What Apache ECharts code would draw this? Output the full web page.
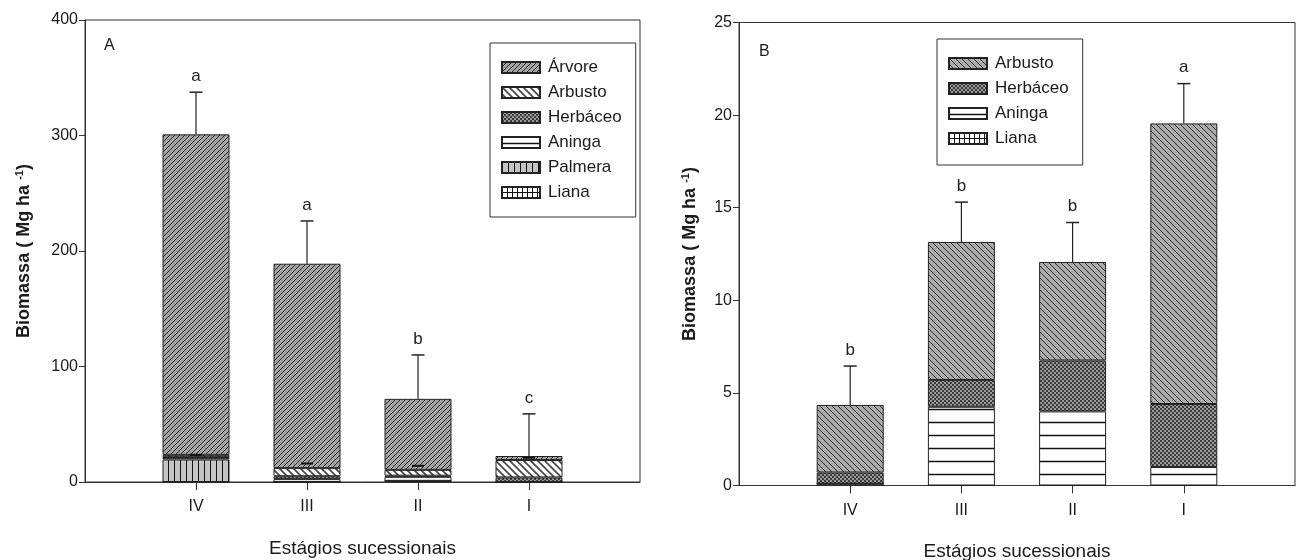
<!DOCTYPE html>
<html><head><meta charset="utf-8">
<script src="https://cdn.jsdelivr.net/npm/echarts@6/dist/echarts.min.js"></script>
<style>html,body{margin:0;padding:0;background:#fff}#c{width:1301px;height:560px}</style>
</head><body><div id="c"></div>
<script>
// ---- data ----
const categories = ['IV', 'III', 'II', 'I'];
// Panel A (Mg ha-1)
const aLiana    = [0, 0, 1, 0];
const aPalmera  = [19.5, 0, 0, 0];
const aAninga   = [1.5, 2.5, 3.5, 0];
const aHerbaceo = [0.5, 2.5, 1, 4];
const aArbusto  = [2, 7, 5, 15];
const aArvore   = [277.5, 177, 61.5, 3.5];
const aErrTop   = [337.5, 226, 110, 59];
const aLetters  = ['a', 'a', 'b', 'c'];
const aInnerErr = [23.5, 16, 14, 21];
// Panel B (Mg ha-1)
const bLiana    = [0.1, 0, 0, 0];
const bAninga   = [0, 4.25, 4.0, 1.0];
const bHerbaceo = [0.6, 1.45, 2.75, 3.4];
const bArbusto  = [3.65, 7.45, 5.32, 15.15];
const bErrTop   = [6.45, 15.3, 14.2, 21.7];
const bLetters  = ['b', 'b', 'b', 'a'];
const aTicks = [0, 100, 200, 300, 400];
const bTicks = [0, 5, 10, 15, 20, 25];

// ---- patterns ----
function pat(w, h, draw) {
  const c = document.createElement('canvas'); c.width = w; c.height = h;
  const g = c.getContext('2d'); draw(g, w, h);
  return { image: c, repeat: 'repeat' };
}
function lines(g, segs, col, lw) {
  g.strokeStyle = col; g.lineWidth = lw; g.beginPath();
  segs.forEach(s => { g.moveTo(s[0], s[1]); g.lineTo(s[2], s[3]); });
  g.stroke();
}
const P = {
  arvore: pat(5, 5, (g) => { g.fillStyle = '#a4a4a4'; g.fillRect(0,0,5,5);
    lines(g, [[0,5,5,0],[-1,1,1,-1],[4,6,6,4]], '#2a2a2a', 1); }),
  arbustoA: pat(7, 7, (g) => { g.fillStyle = '#fff'; g.fillRect(0,0,7,7);
    lines(g, [[0,0,7,7],[-1,6,1,8],[6,-1,8,1]], '#444', 1.6); }),
  arbustoB: pat(6, 6, (g) => { g.fillStyle = '#ababab'; g.fillRect(0,0,6,6);
    lines(g, [[0,0,6,6],[-1,5,1,7],[5,-1,7,1]], '#333', 1); }),
  herb: pat(4, 4, (g) => { g.fillStyle = '#9a9a9a'; g.fillRect(0,0,4,4);
    g.fillStyle = '#3c3c3c'; g.fillRect(0,0,2,2); g.fillRect(2,2,2,2); }),
  aninga: pat(10, 13, (g) => { g.fillStyle = '#fff'; g.fillRect(0,0,10,13);
    lines(g, [[0,6.5,10,6.5]], '#111', 1.5); }),
  palmera: pat(6, 6, (g) => { g.fillStyle = '#c4c4c4'; g.fillRect(0,0,6,6);
    lines(g, [[0.5,0,0.5,6]], '#111', 1); }),
  liana: pat(5, 5, (g) => { g.fillStyle = '#fff'; g.fillRect(0,0,5,5);
    lines(g, [[0.5,0,0.5,5],[0,0.5,5,0.5]], '#111', 1); })
};

const xcats = [''].concat(categories, ['']);
const toPairs = arr => arr.map((v, i) => [i + 1, v]);
const sum = (...arrs) => arrs[0].map((_, i) => arrs.reduce((s, a) => s + a[i], 0));
const aTotal = sum(aLiana, aPalmera, aAninga, aHerbaceo, aArbusto, aArvore);
const bTotal = sum(bLiana, bAninga, bHerbaceo, bArbusto);

function barSeries(name, data, color, axis) {
  return { name: name, type: 'bar', stack: 'S' + axis, xAxisIndex: axis, yAxisIndex: axis,
    barWidth: 67, data: toPairs(data), silent: true,
    itemStyle: { color: color, borderColor: '#222', borderWidth: 1 } };
}
function errSeries(axis, totals, tops, letters) {
  const data = totals.map((t, i) => [i + 1, t, tops[i]]);
  return { type: 'custom', xAxisIndex: axis, yAxisIndex: axis, data: data, silent: true, z: 5,
    renderItem: function (params, api) {
      const p0 = api.coord([api.value(0), api.value(1)]);
      const p1 = api.coord([api.value(0), api.value(2)]);
      return { type: 'group', children: [
        { type: 'line', shape: { x1: p0[0], y1: p0[1], x2: p1[0], y2: p1[1] }, style: { stroke: '#222', lineWidth: 1.2 } },
        { type: 'line', shape: { x1: p1[0] - 6.5, y1: p1[1], x2: p1[0] + 6.5, y2: p1[1] }, style: { stroke: '#222', lineWidth: 1.5 } },
        { type: 'text', style: { text: letters[params.dataIndex], x: p1[0], y: p1[1] - 16,
          textAlign: 'center', textVerticalAlign: 'middle', font: '17px "Liberation Sans"', fill: '#222' } }
      ] };
    } };
}
function capSeries(axis, tops) {
  return { type: 'custom', xAxisIndex: axis, yAxisIndex: axis, data: toPairs(tops), silent: true, z: 5,
    renderItem: function (params, api) {
      const p = api.coord([api.value(0), api.value(1)]);
      return { type: 'line', shape: { x1: p[0] - 6, y1: p[1], x2: p[0] + 6, y2: p[1] }, style: { stroke: '#111', lineWidth: 2 } };
    } };
}

const txt = '#1a1a1a';
function xAxis(grid) {
  return { type: 'category', gridIndex: grid, data: xcats, boundaryGap: false,
    axisLine: { lineStyle: { color: '#333', width: 1 } },
    axisTick: { length: 8, interval: (i) => i > 0 && i < 5, lineStyle: { color: '#333' } },
    axisLabel: { interval: 0, color: txt, fontSize: 16, fontFamily: 'Liberation Sans', margin: 17 },
    name: 'Estágios sucessionais', nameLocation: 'middle', nameGap: 57,
    nameTextStyle: { fontSize: 19, color: txt, fontFamily: 'Liberation Sans' },
    splitLine: { show: false } };
}
function yAxis(grid, max, interval, gap) {
  return { type: 'value', gridIndex: grid, min: 0, max: max, interval: interval,
    axisLine: { show: true, lineStyle: { color: '#333' } },
    axisTick: { show: true, length: 6, lineStyle: { color: '#333' } },
    axisLabel: { color: txt, fontSize: 16, fontFamily: 'Liberation Sans', margin: 7 },
    splitLine: { show: false },
    name: 'Biomassa ( Mg ha {s|-1})', nameLocation: 'middle', nameGap: gap, nameRotate: 90,
    nameTextStyle: { fontSize: 18, fontWeight: 'bold', color: txt, fontFamily: 'Liberation Sans',
      rich: { s: { fontSize: 11, fontWeight: 'bold', verticalAlign: 'top', padding: [0, 0, 10, 0], color: txt } } } };
}

const chart = echarts.init(document.getElementById('c'), null, { renderer: 'canvas' });
chart.setOption({
  animation: false,
  backgroundColor: '#fff',
  grid: [
    { left: 85, top: 20, width: 555, height: 462, show: true, borderColor: '#333', borderWidth: 1,
      containLabel: false, outerBoundsMode: 'none' },
    { left: 739, top: 22.5, width: 556, height: 463, show: true, borderColor: '#333', borderWidth: 1,
      containLabel: false, outerBoundsMode: 'none' }
  ],
  xAxis: [xAxis(0), xAxis(1)],
  yAxis: [yAxis(0, 400, 100, 50), yAxis(1, 25, 5, 38)],
  legend: [
    { data: ['Árvore', 'Arbusto', 'Herbáceo', 'Aninga', 'Palmera', 'Liana'], orient: 'vertical',
      left: 490, top: 43, itemWidth: 38, itemHeight: 11, itemGap: 8, selectedMode: false,
      padding: [16, 14, 16, 11], borderColor: '#333', borderWidth: 1, icon: 'rect',
      textStyle: { fontSize: 17, color: txt, fontFamily: 'Liberation Sans', padding: [0, 0, 0, 3] } },
    { data: ['B:Arbusto', 'B:Herbáceo', 'B:Aninga', 'B:Liana'], orient: 'vertical',
      left: 937, top: 39, itemWidth: 38, itemHeight: 11, itemGap: 8, selectedMode: false,
      padding: [16, 14, 18, 11], borderColor: '#333', borderWidth: 1, icon: 'rect',
      formatter: n => n.replace('B:', ''),
      textStyle: { fontSize: 17, color: txt, fontFamily: 'Liberation Sans', padding: [0, 0, 0, 3] } }
  ],
  graphic: [
    { type: 'text', left: 104, top: 38, style: { text: 'A', font: '16px "Liberation Sans"', fill: txt } },
    { type: 'text', left: 759, top: 44, style: { text: 'B', font: '16px "Liberation Sans"', fill: txt } }
  ],
  series: [
    barSeries('Liana', aLiana, P.liana, 0),
    barSeries('Palmera', aPalmera, P.palmera, 0),
    barSeries('Aninga', aAninga, P.aninga, 0),
    barSeries('Herbáceo', aHerbaceo, P.herb, 0),
    barSeries('Arbusto', aArbusto, P.arbustoA, 0),
    barSeries('Árvore', aArvore, P.arvore, 0),
    errSeries(0, aTotal, aErrTop, aLetters),
    capSeries(0, aInnerErr),
    barSeries('B:Liana', bLiana, P.liana, 1),
    barSeries('B:Aninga', bAninga, P.aninga, 1),
    barSeries('B:Herbáceo', bHerbaceo, P.herb, 1),
    barSeries('B:Arbusto', bArbusto, P.arbustoB, 1),
    errSeries(1, bTotal, bErrTop, bLetters)
  ]
});
</script></body></html>
